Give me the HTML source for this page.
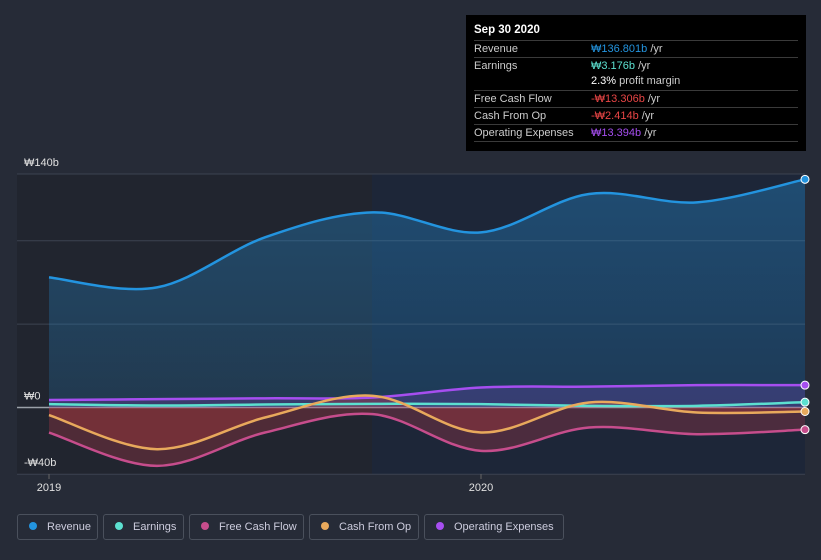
<!DOCTYPE html>
<html><head><meta charset="utf-8">
<style>
body{margin:0;background:#262b37;font-family:"Liberation Sans",sans-serif;}
#wrap{position:relative;width:821px;height:560px;overflow:hidden;background:#262b37;}
.tip{position:absolute;left:466px;top:15px;width:340px;height:136px;background:#000;color:#ccc;font-size:11px;}
.tip .row{position:absolute;left:8px;right:8px;border-top:1px solid #3a3a3a;height:16px;line-height:16px;}
.tip .v{position:absolute;left:117px;}
.legend{position:absolute;top:514px;height:26px;border:1px solid #4a505c;border-radius:3px;color:#ccd;font-size:11px;line-height:24px;box-sizing:border-box;white-space:nowrap;overflow:hidden;}
.legend i{display:inline-block;width:8px;height:8px;border-radius:50%;margin:0 10px 0 11px;}
</style></head><body>
<div id="wrap">
<svg id="chart" width="821" height="560" style="position:absolute;left:0;top:0"></svg>
<div class="tip">
 <div style="position:absolute;left:8px;top:9px;color:#fff;font-weight:bold;font-size:11.5px">Sep 30 2020</div>
 <div class="row" style="top:25px">Revenue<span class="v"><span style="color:#2394df">₩136.801b</span> /yr</span></div>
 <div class="row" style="top:42px">Earnings<span class="v"><span style="color:#5ce0d0">₩3.176b</span> /yr</span></div>
 <div class="row" style="top:58px;border-top:none"><span class="v"><span style="color:#fff">2.3%</span> profit margin</span></div>
 <div class="row" style="top:75px">Free Cash Flow<span class="v"><span style="color:#e84545">-₩13.306b</span> /yr</span></div>
 <div class="row" style="top:92px">Cash From Op<span class="v"><span style="color:#e84545">-₩2.414b</span> /yr</span></div>
 <div class="row" style="top:109px">Operating Expenses<span class="v"><span style="color:#a64ef0">₩13.394b</span> /yr</span></div>
 <div class="row" style="top:126px;height:0"></div>
</div>
<div class="legend" style="left:17px;width:81px"><i style="background:#2394df"></i>Revenue</div>
<div class="legend" style="left:103px;width:81px"><i style="background:#5ce0d0"></i>Earnings</div>
<div class="legend" style="left:189px;width:115px"><i style="background:#c64d8c"></i>Free Cash Flow</div>
<div class="legend" style="left:309px;width:110px"><i style="background:#e8a95c"></i>Cash From Op</div>
<div class="legend" style="left:424px;width:140px"><i style="background:#a64ef0"></i>Operating Expenses</div>
</div>
<script>
const quarters=[0,1,2,3,4,5,6,7];
const revenue=[78,72,102,117,105,128,123,136.8];
const earnings=[2,1.2,1.8,2.2,2,1,1,3.2];
const fcf=[-15,-35,-15,-4,-26,-12,-16,-13.3];
const cfo=[-4.5,-25,-6,7,-15,3,-3,-2.4];
const opex=[4.5,5,5.5,6,12,12.5,13.4,13.4];
const yTicks=[140,0,-40];
const yTickLabels=["₩140b","₩0","-₩40b"];
const gridVals=[140,100,50,0,-40];
const xTickVals=[0,4];
const xTickLabels=["2019","2020"];

const NS="http://www.w3.org/2000/svg";
const svg=document.getElementById('chart');
const x=q=>49+q*108.0;
const y=v=>407.5-v*1.668;
function mk(t,a){const e=document.createElementNS(NS,t);for(const k in a)e.setAttribute(k,a[k]);svg.appendChild(e);return e;}
function path(vals){
 const p=vals.map((v,i)=>[x(quarters[i]),y(v)]);
 let d=`M${p[0][0]},${p[0][1]}`;
 for(let i=0;i<p.length-1;i++){
  const p0=p[i-1]||p[i],p1=p[i],p2=p[i+1],p3=p[i+2]||p2;
  const c1=[p1[0]+(p2[0]-p0[0])/6,p1[1]+(p2[1]-p0[1])/6];
  const c2=[p2[0]-(p3[0]-p1[0])/6,p2[1]-(p3[1]-p1[1])/6];
  d+=` C${c1[0]},${c1[1]} ${c2[0]},${c2[1]} ${p2[0]},${p2[1]}`;
 }
 return d;
}
const defs=mk('defs',{});
defs.innerHTML='<linearGradient id="gb" x1="0" y1="0" x2="0" y2="1"><stop offset="0" stop-color="#2394df" stop-opacity="0.35"/><stop offset="1" stop-color="#2394df" stop-opacity="0.18"/></linearGradient>';
let r=mk('rect',{x:17,y:174,width:355,height:300,fill:'#21252f'});

r=mk('rect',{x:372,y:174,width:433,height:300,fill:'#1d2638'});

gridVals.forEach(v=>{const g=mk('line',{x1:17,x2:805,y1:y(v),y2:y(v),stroke:v===0?'#9aa0a8':'#3c4350','stroke-width':v===0?1.5:1});
 });
yTicks.forEach((v,i)=>{const t=mk('text',{x:24,y:y(v)-8,fill:'#e0e0e0','font-size':11});t.textContent=yTickLabels[i];
 });
xTickVals.forEach((q,i)=>{const t=mk('text',{x:x(q),y:491,fill:'#e0e0e0','font-size':11,'text-anchor':'middle'});t.textContent=xTickLabels[i];
 
 mk('line',{x1:x(q),x2:x(q),y1:474,y2:479,stroke:'#666'});});
const last=x(quarters[quarters.length-1]),first=x(quarters[0]);
function area(vals,fill,name){const a=mk('path',{d:path(vals)+` L${last},${y(0)} L${first},${y(0)} Z`,fill:fill});
 }
area(revenue,'url(#gb)','revenue-area');
area(opex,'rgba(166,78,240,0.18)','opex-area');
area(fcf,'rgba(200,60,80,0.28)','fcf-area');
area(cfo,'rgba(200,60,60,0.3)','cfo-area');
const series=[[revenue,'#2394df','revenue'],[opex,'#a64ef0','opex'],[earnings,'#5ce0d0','earnings'],[cfo,'#e8a95c','cfo'],[fcf,'#c64d8c','fcf']];
series.forEach(([vals,c,n])=>{
 const l=mk('path',{d:path(vals),fill:'none',stroke:c,'stroke-width':2.5});
 
 const d=mk('circle',{cx:last,cy:y(vals[vals.length-1]),r:4,fill:c,stroke:'#fff','stroke-width':1});
 
});
</script>
</body></html>
